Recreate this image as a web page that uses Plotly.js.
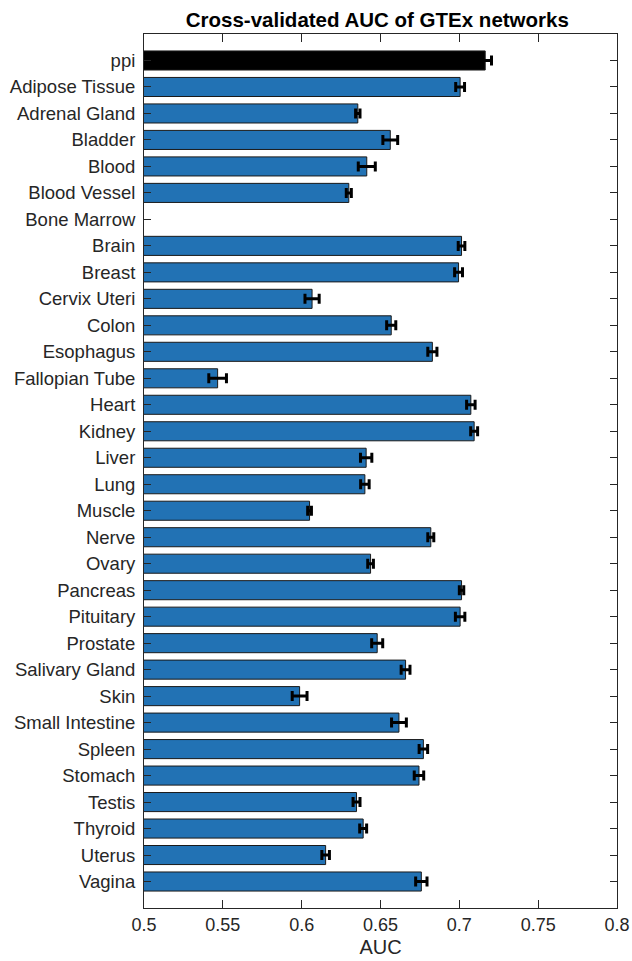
<!DOCTYPE html>
<html>
<head>
<meta charset="utf-8">
<script src="https://cdn.plot.ly/plotly-3.0.1.min.js"></script>
<style>
  html, body { margin: 0; padding: 0; background: #fff; }
  #chart { width: 632px; height: 961px; }
</style>
</head>
<body>
<div id="chart"></div>
<script>
// Network names, top to bottom
const networks = [
  "ppi", "Adipose Tissue", "Adrenal Gland", "Bladder", "Blood", "Blood Vessel",
  "Bone Marrow", "Brain", "Breast", "Cervix Uteri", "Colon", "Esophagus",
  "Fallopian Tube", "Heart", "Kidney", "Liver", "Lung", "Muscle", "Nerve",
  "Ovary", "Pancreas", "Pituitary", "Prostate", "Salivary Gland", "Skin",
  "Small Intestine", "Spleen", "Stomach", "Testis", "Thyroid", "Uterus", "Vagina"
];

// Mean cross-validated AUC (Bone Marrow has no result)
const meanAUC = [
  0.7164, 0.7005, 0.6356, 0.6562, 0.6413, 0.6299,
  null, 0.7014, 0.6995, 0.6066, 0.6568, 0.6829,
  0.5467, 0.7073, 0.7094, 0.6409, 0.6401, 0.6050, 0.6819,
  0.6437, 0.7014, 0.7005, 0.6479, 0.6659, 0.5987,
  0.6617, 0.6772, 0.6744, 0.6348, 0.6390, 0.6152, 0.6759
];

// Error bar half-widths
const errAUC = [
  0.0040, 0.0028, 0.0014, 0.0047, 0.0054, 0.0016,
  null, 0.0021, 0.0025, 0.0045, 0.0029, 0.0029,
  0.0056, 0.0027, 0.0022, 0.0036, 0.0027, 0.0012, 0.0019,
  0.0018, 0.0014, 0.0030, 0.0035, 0.0028, 0.0047,
  0.0047, 0.0027, 0.0030, 0.0022, 0.0022, 0.0024, 0.0036
];

const xTickVals = [0.5, 0.55, 0.6, 0.65, 0.7, 0.75, 0.8];
const xTickText = ["0.5", "0.55", "0.6", "0.65", "0.7", "0.75", "0.8"];

const BLUE = "#2272b4";
const INK = "#262626";

// the baseline network is drawn in black, tissues in blue
const barColors = networks.map(n => n === "ppi" ? "#000000" : BLUE);

const trace = {
  type: "bar",
  orientation: "h",
  y: networks,
  x: meanAUC,
  marker: {
    color: barColors,
    line: { color: "#1a1a1a", width: 1 }
  },
  error_x: {
    type: "data",
    array: errAUC,
    visible: true,
    color: "#000000",
    thickness: 3,
    width: 5
  },
  hoverinfo: "x+y"
};

const layout = {
  width: 632,
  height: 961,
  margin: { l: 144, r: 15, t: 34, b: 53, pad: 0 },
  paper_bgcolor: "#ffffff",
  plot_bgcolor: "#ffffff",
  font: { family: "Liberation Sans, Arial, Helvetica, sans-serif", size: 18, color: INK },
  showlegend: false,
  bargap: 0.28,
  title: {
    text: "<b>Cross-validated AUC of GTEx networks</b>",
    font: { size: 20.5, color: "#000000" },
    x: 0.597,
    xanchor: "center",
    y: 0.979,
    yanchor: "middle"
  },
  xaxis: {
    range: [0.5, 0.8],
    tickvals: xTickVals,
    ticktext: xTickText,
    ticks: "inside",
    ticklen: 8,
    tickwidth: 1,
    tickcolor: INK,
    showline: true,
    linecolor: INK,
    linewidth: 1,
    mirror: "ticks",
    showgrid: false,
    zeroline: false,
    tickfont: { size: 18 },
    title: { text: "AUC", font: { size: 20 }, standoff: 6 }
  },
  yaxis: {
    type: "category",
    range: [32, -1],
    ticks: "inside",
    ticklen: 7,
    tickwidth: 1,
    tickcolor: INK,
    showline: true,
    linecolor: INK,
    linewidth: 1,
    mirror: "ticks",
    showgrid: false,
    zeroline: false,
    ticklabelstandoff: 4,
    tickfont: { size: 18.5 }
  }
};

Plotly.newPlot("chart", [trace], layout, { displayModeBar: false, staticPlot: true });
</script>
</body>
</html>
